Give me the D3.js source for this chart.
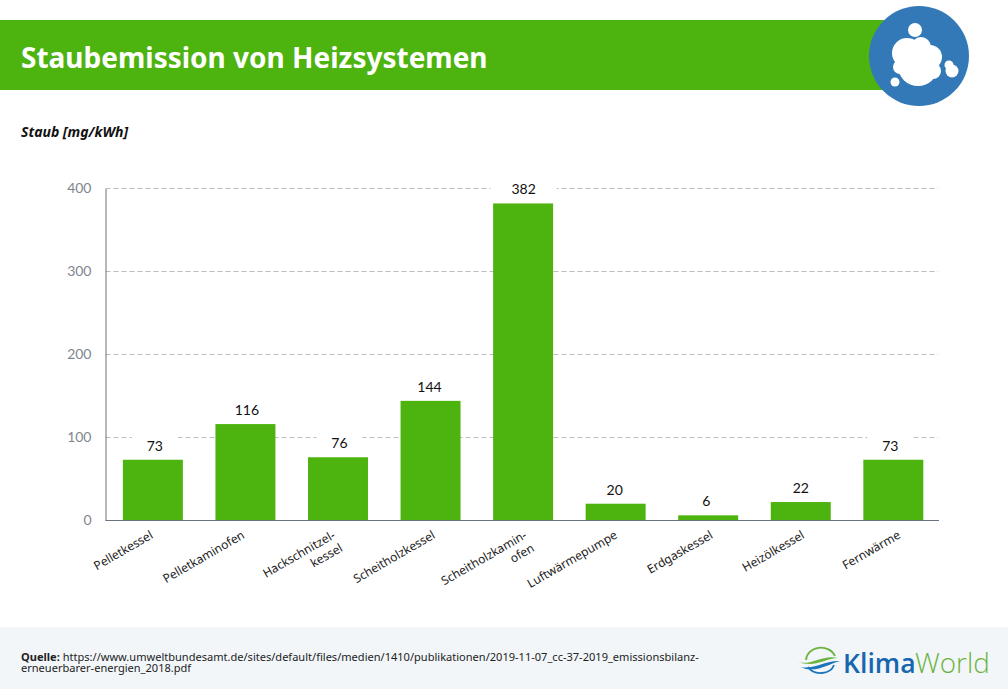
<!DOCTYPE html>
<html>
<head>
<meta charset="utf-8">
<script src="https://cdn.jsdelivr.net/npm/d3@7"></script>
<style>
html,body{margin:0;padding:0;background:#fff}
text{font-family:"Noto Sans",sans-serif}
</style>
</head>
<body>
<div id="chart"></div>
<script>
// Werte
var categories = ["Pelletkessel","Pelletkaminofen","Hackschnitzel-|kessel","Scheitholzkessel","Scheitholzkamin-|ofen","Luftwärmepumpe","Erdgaskessel","Heizölkessel","Fernwärme"];
var values = [73,116,76,144,382,20,6,22,73];
var yTicks = [0,100,200,300,400];

var W = 1008, H = 689;
var green = "#4db30e", blue = "#3379b7";

var svg = d3.select("#chart").append("svg")
  .attr("width", W).attr("height", H)
  .style("display","block");

// Kopfzeile
svg.append("rect").attr("x",0).attr("y",20).attr("width",900).attr("height",70).attr("fill",green);
svg.append("text").attr("x",21).attr("y",68)
  .attr("fill","#fff").attr("font-size",28).attr("font-weight",700)
  .text("Staubemission von Heizsystemen");

// Icon
var icon = svg.append("g");
icon.append("circle").attr("cx",919).attr("cy",56).attr("r",50).attr("fill",blue);
var puffs = [[915,30,7],[918,66,20],[907,53,15],[921,47,10],[930,57,12],[933,71,8],[900,67,7],[895,82,4.5],[949,65,4.5],[952,71,6.5]];
icon.selectAll("circle.puff").data(puffs).enter().append("circle")
  .attr("class","puff")
  .attr("cx",function(d){return d[0]}).attr("cy",function(d){return d[1]}).attr("r",function(d){return d[2]})
  .attr("fill","#fff");

svg.append("text").attr("x",21).attr("y",137)
  .attr("font-size",14).attr("font-weight",700).attr("font-style","italic").attr("fill","#111")
  .text("Staub [mg/kWh]");

// Skalen
var x = d3.scaleBand().domain(categories).range([106.6,939.6]).paddingInner(0.352).paddingOuter(0.176);
var y = d3.scaleLinear().domain([0,400]).range([520.3,188.5]);

// Gitter
svg.append("g").selectAll("line").data(yTicks.slice(1)).enter().append("line")
  .attr("x1",105.5).attr("x2",938)
  .attr("y1",function(d){return Math.floor(y(d))+0.5}).attr("y2",function(d){return Math.floor(y(d))+0.5})
  .attr("stroke","#bdbdbd").attr("stroke-dasharray","5 3");

var yAxis = d3.axisLeft(y).tickValues(yTicks).tickSize(0).tickPadding(14);
var gy = svg.append("g").attr("transform","translate(105.5,0)").call(yAxis);
gy.select(".domain").attr("stroke","#6b7280").attr("stroke-width",1);
gy.selectAll("text").attr("fill","#808690").style("font-family","Lato").attr("font-size",14);

// Balken
svg.append("g").selectAll("rect").data(values).enter().append("rect")
  .attr("x",function(d,i){return x(categories[i])})
  .attr("width",x.bandwidth())
  .attr("y",function(d){return y(d)})
  .attr("height",function(d){return y(0)-y(d)})
  .attr("fill",green);

// x Achse
svg.append("line").attr("x1",105.5).attr("x2",939).attr("y1",520.5).attr("y2",520.5)
  .attr("stroke","#6b7280");

// Werte, von Hand nachgeschoben
var valueNudge = [1,0.5,0.5,-2,-0.5,-2,-3,-1,-4];
var lab = svg.append("g").selectAll("g").data(values).enter().append("g")
  .attr("transform",function(d,i){return "translate("+(x(categories[i])+x.bandwidth()/2+1+valueNudge[i])+","+(y(d)-14)+")"});
lab.append("rect")
  .attr("x",function(d){return d>=100?-33:-23}).attr("width",function(d){return d>=100?66:46})
  .attr("y",-12).attr("height",24).attr("fill","#fff");
lab.append("text").attr("text-anchor","middle").attr("y",5)
  .style("font-family","Lato").attr("font-size",14).attr("fill","#111")
  .text(function(d){return d});

// Kategorien gedreht, von Hand nachgeschoben
var nudge = [-1,-2,-6,3.5,0.5,0.5,3.5,2.5,6];
var cat = svg.append("g").selectAll("text").data(categories).enter().append("text")
  .attr("text-anchor","end").attr("font-size",12).attr("fill","#222")
  .attr("transform",function(d,i){return "translate("+(x(d)+x.bandwidth()/2+(d.indexOf("|")>0?2:0)+nudge[i])+",534) rotate(-30)"});
cat.each(function(d){
  var parts = d.split("|"), t = d3.select(this);
  parts.forEach(function(p,i){
    t.append("tspan").attr("x",0).attr("dy",i?15:4).text(p);
  });
});

// Fuss
svg.append("rect").attr("x",0).attr("y",627).attr("width",W).attr("height",62).attr("fill","#f2f6f9");
var src = svg.append("text").attr("y",661).attr("font-size",11.05).attr("fill","#222");
src.append("tspan").attr("x",21).attr("font-weight",700).text("Quelle: ");
src.append("tspan").text("https://www.umweltbundesamt.de/sites/default/files/medien/1410/publikationen/2019-11-07_cc-37-2019_emissionsbilanz-");
src.append("tspan").attr("x",21).attr("dy",11).text("erneuerbarer-energien_2018.pdf");

// Logo
var logo = svg.append("g");
logo.append("path").attr("d","M806 660 A15 13 0 0 1 835 656").attr("fill","none").attr("stroke","#6cb33f").attr("stroke-width",1.8);
logo.append("path").attr("d","M808 667 A14 11 0 0 0 834 665").attr("fill","none").attr("stroke","#1c75bc").attr("stroke-width",1.8);
logo.append("path").attr("d","M798 662 C812 666 822 654 838 658 C826 658 816 668 798 662Z").attr("fill","#6cb33f");
logo.append("path").attr("d","M800 667 C814 670 826 660 840 661 C828 664 816 674 800 667Z").attr("fill","#1c75bc");
logo.append("text").attr("x",843).attr("y",673).attr("font-size",26.6).attr("font-weight",600).attr("fill","#1667ad").style("font-family","Open Sans").text("Klima");
logo.append("text").attr("x",915).attr("y",673).attr("font-size",27.8).attr("font-weight",300).attr("fill","#6cb33f").style("font-family","Open Sans").text("World");
</script>
</body>
</html>
